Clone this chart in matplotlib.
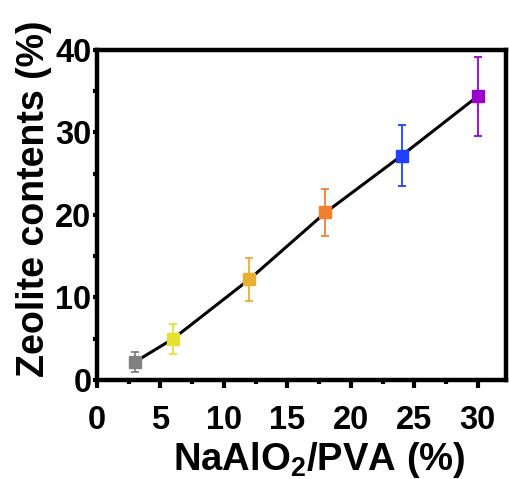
import matplotlib
matplotlib.use("Agg")
from matplotlib import pyplot as plt
from matplotlib.ticker import MultipleLocator

# data
ratio = [3, 6, 12, 18, 24, 30]
zeolite = [2.2, 5.0, 12.2, 20.3, 27.2, 34.4]
err = [1.2, 1.8, 2.6, 2.9, 3.7, 4.8]
colors = ['#808080', '#e8e030', '#e8b030', '#f08030', '#2040ff', '#9900cc']

plt.rcParams['font.family'] = ['Liberation Sans', 'DejaVu Sans']
plt.rcParams['font.weight'] = 'bold'
plt.rcParams['mathtext.fontset'] = 'custom'
plt.rcParams['mathtext.rm'] = 'Liberation Sans:bold'
plt.rcParams['mathtext.bf'] = 'Liberation Sans:bold'

fig = plt.figure(figsize=(5.09, 4.79), dpi=100)
ax = fig.add_axes([0.1906, 0.2067, 0.803, 0.689])

ax.plot(ratio, zeolite, color='black', lw=2.2, zorder=2)
for x, y, e, c in zip(ratio, zeolite, err, colors):
    ax.errorbar(x, y, yerr=e, fmt='s', color=c, ms=9.3, elinewidth=1.3,
                capsize=3, capthick=1.3, zorder=3)

ax.set_xlim(0, 32.2)
ax.set_ylim(0, 40)
ax.xaxis.set_major_locator(MultipleLocator(5))
ax.xaxis.set_minor_locator(MultipleLocator(2.5))
ax.yaxis.set_major_locator(MultipleLocator(10))
ax.yaxis.set_minor_locator(MultipleLocator(5))

for s in ax.spines.values():
    s.set_linewidth(3.2)
ax.tick_params(axis='x', which='major', length=6, width=3, labelsize=23.5, pad=12)
ax.tick_params(axis='x', which='minor', length=3, width=3)
ax.tick_params(axis='y', which='major', length=3, width=3, labelsize=23.5, pad=1)
ax.tick_params(axis='y', which='minor', length=3, width=3)
for lab in ax.get_xticklabels() + ax.get_yticklabels():
    lab.set_fontweight('bold')

ax.set_xlabel('NaAlO$_\\mathbf{2}$/PVA (%)', fontsize=27.5, fontweight='bold', labelpad=3)
ax.set_ylabel('Zeolite contents (%)', fontsize=27, fontweight='bold', labelpad=2)
ax.xaxis.label.set_x(0.543)
ax.yaxis.label.set_y(0.548)

fig.savefig('out.png', dpi=100)
